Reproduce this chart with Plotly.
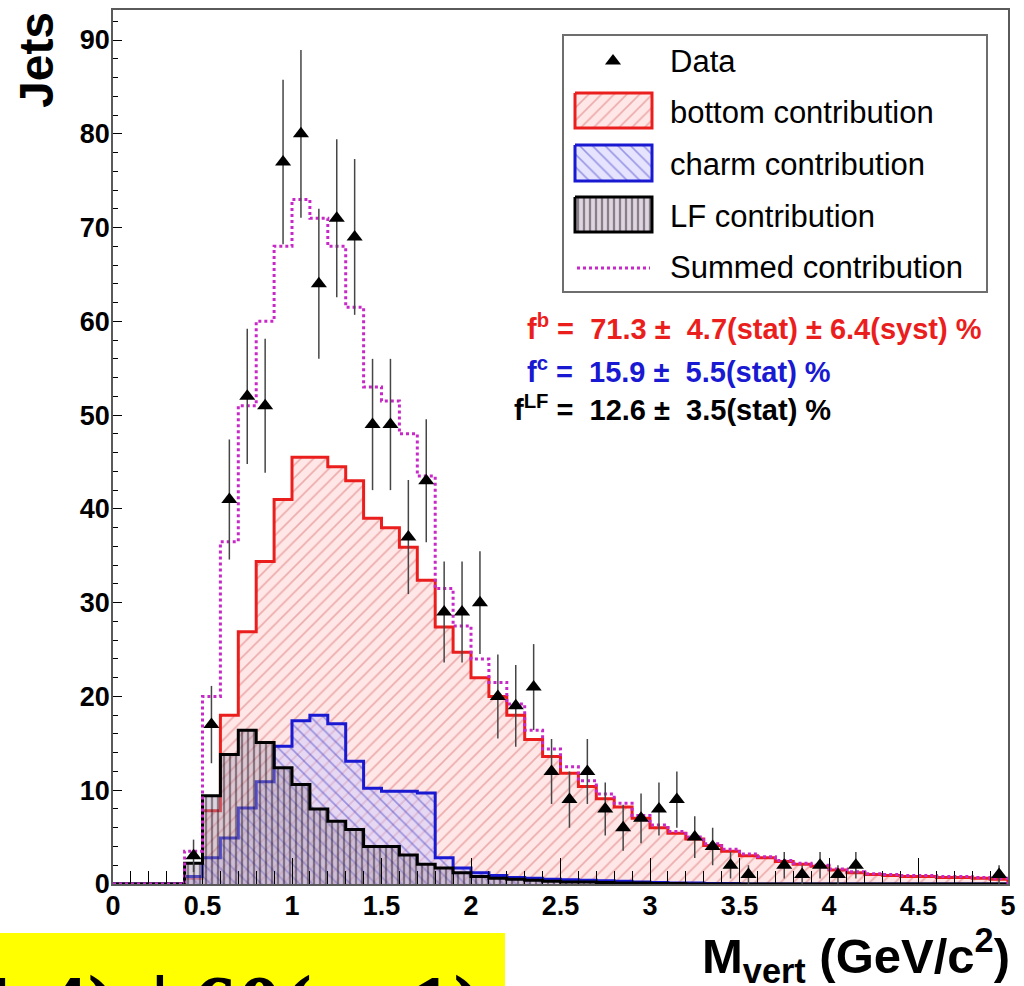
import numpy as np
import plotly.graph_objects as go

# page is 1024x986; the body margin is removed by a small post-script
W, H = 1024, 986
OFF = 0
FW, FH = W - 2 * OFF, H - 2 * OFF

# ---------------- data ----------------
# lower edges of the 0.1 GeV/c^2 bins, 0.0 ... 4.9
bin_low = [round(0.1 * i, 1) for i in range(50)]
bin_width = 0.1

data_counts = [0, 0, 0, 0, 3, 17, 41, 52, 51, 77,
               80, 64, 71, 69, 49, 49, 37, 43, 29, 29,
               30, 20, 19, 21, 12, 9, 12, 8, 6, 7,
               8, 9, 5, 4, 2, 1, 0, 2, 1, 2,
               1, 2, 0, 0, 0, 0, 0, 0, 0, 1]

bottom_vals = [0, 0, 0, 0, 0.6, 7.8, 18.0, 26.9, 34.4, 41.0,
               45.5, 45.5, 44.5, 43.0, 39.0, 38.0, 35.9, 32.4, 27.4, 24.7,
               22.0, 20.0, 18.0, 15.4, 13.6, 11.8, 10.4, 9.1, 8.2, 7.0,
               6.0, 5.4, 4.8, 4.1, 3.5, 3.0, 2.8, 2.4, 2.1, 1.9,
               1.5, 1.2, 1.0, 0.9, 0.8, 0.8, 0.7, 0.7, 0.6, 0.5]

charm_vals = [0, 0, 0, 0, 0.8, 2.8, 4.9, 8.1, 10.9, 14.7,
              17.4, 18.0, 17.1, 13.1, 10.2, 9.9, 9.9, 9.7, 2.8, 1.7,
              1.2, 0.9, 0.7, 0.6, 0.5, 0.45, 0.4, 0.35, 0.3, 0.2,
              0.15, 0.1, 0.1, 0.05, 0.05, 0, 0, 0, 0, 0,
              0, 0, 0, 0, 0, 0, 0, 0, 0, 0]

lf_vals = [0, 0, 0, 0, 2.2, 9.4, 13.8, 16.4, 15.1, 12.4,
           10.6, 8.0, 6.7, 5.8, 4.0, 4.0, 3.1, 2.1, 1.7, 1.2,
           0.8, 0.6, 0.5, 0.4, 0.3, 0.2, 0.2, 0.15, 0.1, 0.1,
           0.05, 0.05, 0, 0, 0, 0, 0, 0, 0, 0,
           0, 0, 0, 0, 0, 0, 0, 0, 0, 0]

summed_vals = [0, 0, 0, 0, 3.5, 20.0, 36.5, 51.0, 60.0, 68.0,
               73.0, 71.0, 68.0, 61.5, 53.0, 51.5, 48.0, 43.5, 31.5, 27.5,
               24.0, 21.5, 19.2, 16.4, 14.4, 12.5, 11.0, 9.6, 8.6, 7.3,
               6.3, 5.6, 5.0, 4.3, 3.7, 3.2, 2.9, 2.5, 2.2, 2.0,
               1.6, 1.3, 1.1, 1.0, 0.9, 0.9, 0.8, 0.8, 0.7, 0.6]

legend_labels = ["Data", "bottom contribution", "charm contribution",
                 "LF contribution", "Summed contribution"]

NB = "\u00a0"
PM = "\u00b1"
fit_texts = [
    f"f<sup>b</sup>{NB}={NB}{NB}71.3{NB}{PM}{NB}{NB}4.7(stat){NB}{PM}{NB}6.4(syst){NB}%",
    f"f<sup>c</sup>{NB}={NB}{NB}15.9{NB}{PM}{NB}{NB}5.5(stat){NB}%",
    f"f<sup>LF</sup>{NB}={NB}{NB}12.6{NB}{PM}{NB}{NB}3.5(stat){NB}%",
]

x_title = "M<sub>vert</sub> (GeV/c<sup>2</sup>)"
y_title = "Jets"
banner_parts = ["(1,4)", "|", "60(x\u22121)"]

# ---------------- styles ----------------
RED = "rgb(235,30,30)"
BLUE = "rgb(25,25,210)"
BLACK = "rgb(0,0,0)"
MAG = "rgb(200,40,200)"
SANS = "Liberation Sans"
SERIF = "Liberation Serif"

# plot frame in page pixels: x 0 -> 113, x 5 -> 1008 ; y 0 -> 884, top -> 10
FX0, FX1, FY0, FY1 = 113, 1008, 884, 10
XMAX, YMAX = 5.0, 93.2

bottom_pat = dict(shape="/", fgcolor="rgba(205,70,70,0.75)", bgcolor="rgba(255,222,222,0.75)",
                  size=9, solidity=0.18)
charm_pat = dict(shape="\\", fgcolor="rgba(40,40,190,0.8)", bgcolor="rgba(205,200,255,0.5)",
                 size=9, solidity=0.18)
lf_pat = dict(shape="|", fgcolor="rgba(30,20,30,0.9)", bgcolor="rgba(170,150,175,0.4)",
              size=6, solidity=0.38)


def step(vals):
    end = bin_low[-1] + bin_width
    xs = bin_low + [end, end]
    ys = list(vals) + [vals[-1], 0]
    return xs, ys


def px_x(p):  # page pixel -> paper fraction
    return (p - OFF) / FW


def px_y(p):
    return 1 - (p - OFF) / FH


def dx(p):  # page pixel -> data x (for legend decorations inside the frame)
    return (p - FX0) / (FX1 - FX0) * XMAX


def dy(p):  # page pixel -> data y
    return (FY0 - p) / (FY0 - FY1) * YMAX


fig = go.Figure()

for vals, col, pat in [(bottom_vals, RED, bottom_pat),
                       (charm_vals, BLUE, charm_pat),
                       (lf_vals, BLACK, lf_pat)]:
    xs, ys = step(vals)
    fig.add_trace(go.Scatter(x=xs, y=ys, mode="lines",
                             line=dict(color=col, width=3, shape="hv"),
                             fill="tozeroy", fillpattern=pat,
                             showlegend=False, hoverinfo="skip"))

xs, ys = step(summed_vals)
fig.add_trace(go.Scatter(x=xs, y=ys, mode="lines",
                         line=dict(color=MAG, width=3, shape="hv", dash="dot"),
                         showlegend=False, hoverinfo="skip"))

centers = [b + bin_width / 2 for b in bin_low]
d_y = [c if c > 0 else None for c in data_counts]
d_err = [float(np.sqrt(c)) if c > 0 else 0 for c in data_counts]
fig.add_trace(go.Scatter(x=centers, y=d_y, mode="markers",
                         marker=dict(symbol="triangle-up", size=14, color="black"),
                         error_y=dict(type="data", array=d_err, visible=True,
                                      color="rgb(70,70,70)", thickness=1.5, width=0),
                         showlegend=False))

# ---------------- hand-drawn legend ----------------
sw_x0, sw_x1 = 575, 652
sw_rows = [(93, 128, RED, bottom_pat), (145, 181, BLUE, charm_pat), (197, 232, BLACK, lf_pat)]
for y0, y1, col, pat in sw_rows:
    fig.add_trace(go.Scatter(x=[dx(sw_x0), dx(sw_x1), dx(sw_x1), dx(sw_x0), dx(sw_x0)],
                             y=[dy(y0), dy(y0), dy(y1), dy(y1), dy(y0)],
                             mode="lines", line=dict(color=col, width=3),
                             fill="toself", fillpattern=pat,
                             showlegend=False, hoverinfo="skip"))
fig.add_trace(go.Scatter(x=[dx(613)], y=[dy(61)], mode="markers",
                         marker=dict(symbol="triangle-up", size=14, color="black"),
                         showlegend=False, hoverinfo="skip"))
fig.add_trace(go.Scatter(x=[dx(577), dx(650)], y=[dy(268), dy(268)], mode="lines",
                         line=dict(color=MAG, width=3, dash="dot"),
                         showlegend=False, hoverinfo="skip"))

annotations = []
for lab, yc in zip(legend_labels, [61, 112, 165, 217, 268]):
    annotations.append(dict(x=px_x(668), y=px_y(yc), xref="paper", yref="paper", text=lab,
                            showarrow=False, xanchor="left", yanchor="middle",
                            font=dict(family=SANS, size=31, color="black")))

for txt, xl, yc, col in zip(fit_texts, [525, 525, 512], [327, 370, 408], [RED, BLUE, BLACK]):
    annotations.append(dict(x=px_x(xl), y=px_y(yc), xref="paper", yref="paper", text=txt,
                            showarrow=False, xanchor="left", yanchor="middle",
                            font=dict(family=SANS, size=29, color=col, weight="bold")))

annotations.append(dict(x=px_x(37), y=px_y(60), xref="paper", yref="paper", text=y_title,
                        textangle=-90, showarrow=False, xanchor="center", yanchor="middle",
                        font=dict(family=SANS, size=48, color="black", weight="bold")))
annotations.append(dict(x=px_x(1012), y=px_y(955), xref="paper", yref="paper", text=x_title,
                        showarrow=False, xanchor="right", yanchor="middle",
                        font=dict(family=SANS, size=49, color="black", weight="bold")))

banner_font = dict(family=SERIF, size=90, color="black", weight="bold")
for part, xp, anc in zip(banner_parts, [119, 160, 485], ["right", "center", "right"]):
    annotations.append(dict(x=px_x(xp), y=px_y(956), xref="paper", yref="paper", text=part,
                            showarrow=False, xanchor=anc, yanchor="top", font=banner_font))

shapes = [
    dict(type="rect", xref="paper", yref="paper", x0=px_x(563), x1=px_x(987),
         y0=px_y(35), y1=px_y(292),
         line=dict(color="rgb(110,110,110)", width=2), fillcolor="rgba(0,0,0,0)",
         layer="above"),
    dict(type="rect", xref="paper", yref="paper", x0=px_x(0), x1=px_x(505),
         y0=px_y(933), y1=px_y(1000),
         line=dict(width=0), fillcolor="rgb(255,255,0)", layer="below"),
]

tickfont = dict(family=SANS, size=27, color="black", weight="bold")
fig.update_layout(
    width=FW, height=FH,
    margin=dict(l=0, r=0, t=0, b=0, autoexpand=False),
    paper_bgcolor="white", plot_bgcolor="white",
    showlegend=False,
    xaxis=dict(domain=[px_x(FX0), px_x(FX1)], range=[0, XMAX], automargin=False,
               dtick=0.5, tick0=0, ticks="inside", ticklen=26, tickwidth=1, tickcolor="black",
               minor=dict(dtick=0.1, ticks="inside", ticklen=13, tickwidth=1, tickcolor="black"),
               showline=True, linecolor="rgb(90,90,90)", linewidth=1.5, mirror=True,
               showgrid=False, zeroline=False, tickfont=tickfont, ticklabelstandoff=-3),
    yaxis=dict(domain=[px_y(FY0), px_y(FY1)], range=[0, YMAX], automargin=False,
               dtick=10, tick0=0, ticks="inside", ticklen=9, tickwidth=1, tickcolor="black",
               minor=dict(dtick=2, ticks="inside", ticklen=5, tickwidth=1, tickcolor="black"),
               showline=True, linecolor="rgb(90,90,90)", linewidth=1.5, mirror=True,
               showgrid=False, zeroline=False, tickfont=tickfont, ticklabelstandoff=-4),
    annotations=annotations,
    shapes=shapes,
)

fig.write_html("out.html", config={"displayModeBar": False},
               post_script="document.body.style.margin='0';"
                           "document.documentElement.style.overflow='hidden';")
